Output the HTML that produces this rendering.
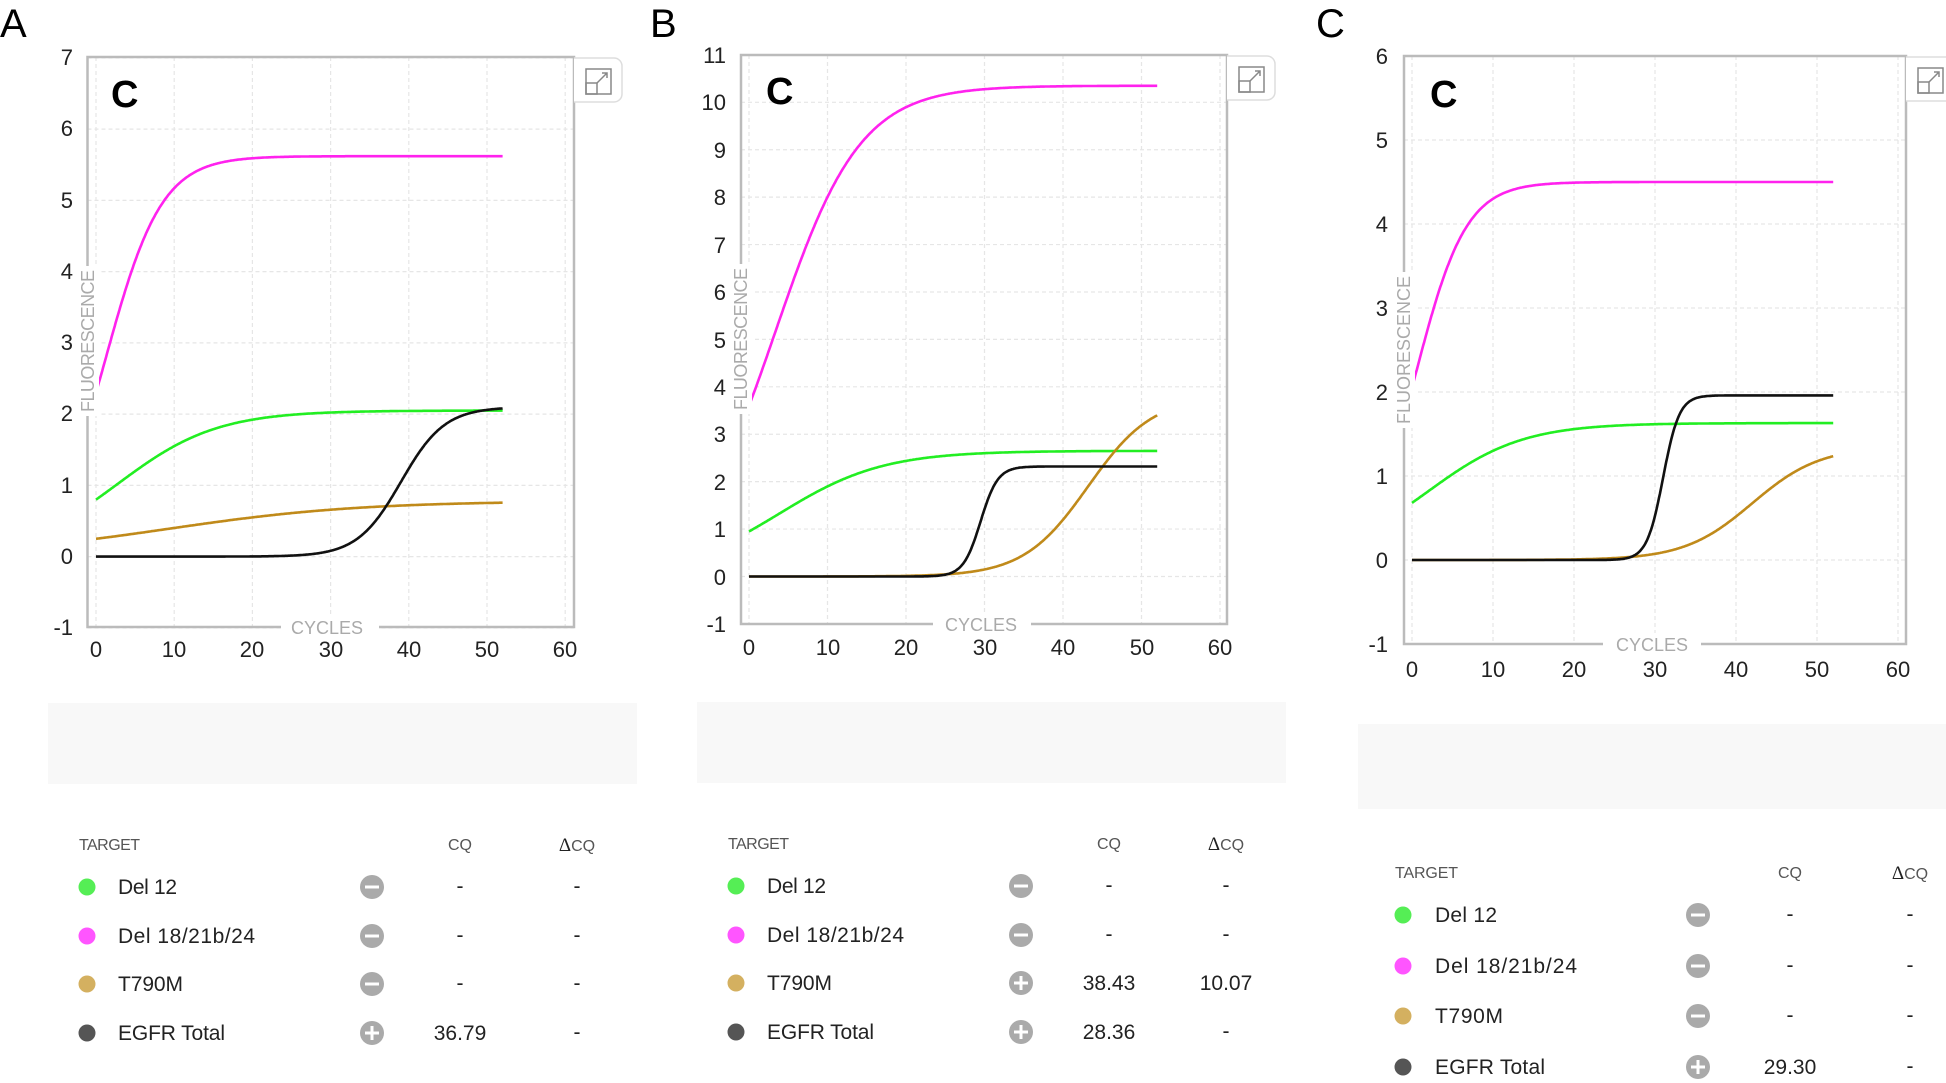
<!DOCTYPE html>
<html><head><meta charset="utf-8"><style>
html,body{margin:0;padding:0;background:#fff;width:1946px;height:1083px;overflow:hidden}
svg{display:block}
.t{font-family:"Liberation Sans",sans-serif;font-size:22px;fill:#222}
.ax{font-family:"Liberation Sans",sans-serif;font-size:18px;fill:#aaa}
.big{font-family:"Liberation Sans",sans-serif;font-size:40px;fill:#000}
.cc{font-family:"Liberation Sans",sans-serif;font-size:38px;font-weight:bold;fill:#000}
.h{font-family:"Liberation Sans",sans-serif;font-size:16px;fill:#555}
.n{font-family:"Liberation Sans",sans-serif;font-size:21px;fill:#222}
</style></head><body>
<svg id="s" width="1946" height="1083" viewBox="0 0 1946 1083" xmlns="http://www.w3.org/2000/svg">
<g id="grid"></g>
<g id="frames"></g>
<g id="curves"></g>

<text class="big" x="0" y="37">A</text>
<text class="big" x="650" y="37">B</text>
<text class="big" x="1316" y="37">C</text>
<text class="cc" x="111" y="107">C</text>
<text class="cc" x="766" y="104">C</text>
<text class="cc" x="1430" y="107">C</text>

<!-- Panel A ticks -->
<g class="t" text-anchor="end">
<text x="73" y="65">7</text><text x="73" y="136">6</text><text x="73" y="208">5</text><text x="73" y="279">4</text><text x="73" y="350">3</text><text x="73" y="421">2</text><text x="73" y="493">1</text><text x="73" y="564">0</text><text x="73" y="635">-1</text>
</g>
<g class="t" text-anchor="middle">
<text x="96" y="657">0</text><text x="174" y="657">10</text><text x="252" y="657">20</text><text x="331" y="657">30</text><text x="409" y="657">40</text><text x="487" y="657">50</text><text x="565" y="657">60</text>
</g>
<!-- Panel B ticks -->
<g class="t" text-anchor="end">
<text x="726" y="63">11</text><text x="726" y="110">10</text><text x="726" y="158">9</text><text x="726" y="205">8</text><text x="726" y="253">7</text><text x="726" y="300">6</text><text x="726" y="348">5</text><text x="726" y="395">4</text><text x="726" y="442">3</text><text x="726" y="490">2</text><text x="726" y="537">1</text><text x="726" y="585">0</text><text x="726" y="632">-1</text>
</g>
<g class="t" text-anchor="middle">
<text x="749" y="655">0</text><text x="828" y="655">10</text><text x="906" y="655">20</text><text x="985" y="655">30</text><text x="1063" y="655">40</text><text x="1142" y="655">50</text><text x="1220" y="655">60</text>
</g>
<!-- Panel C ticks -->
<g class="t" text-anchor="end">
<text x="1388" y="64">6</text><text x="1388" y="148">5</text><text x="1388" y="232">4</text><text x="1388" y="316">3</text><text x="1388" y="400">2</text><text x="1388" y="484">1</text><text x="1388" y="568">0</text><text x="1388" y="652">-1</text>
</g>
<g class="t" text-anchor="middle">
<text x="1412" y="677">0</text><text x="1493" y="677">10</text><text x="1574" y="677">20</text><text x="1655" y="677">30</text><text x="1736" y="677">40</text><text x="1817" y="677">50</text><text x="1898" y="677">60</text>
</g>

<!-- axis titles -->
<rect x="281" y="616" width="98" height="22" fill="#fff"/>
<text class="ax" x="327" y="634" text-anchor="middle">CYCLES</text>
<rect x="933" y="613" width="98" height="22" fill="#fff"/>
<text class="ax" x="981" y="631" text-anchor="middle">CYCLES</text>
<rect x="1603" y="633" width="98" height="22" fill="#fff"/>
<text class="ax" x="1652" y="651" text-anchor="middle">CYCLES</text>

<rect x="77" y="266" width="22" height="150" fill="#fff"/>
<text class="ax" transform="translate(94,341) rotate(-90)" text-anchor="middle" textLength="142">FLUORESCENCE</text>
<rect x="730" y="264" width="22" height="150" fill="#fff"/>
<text class="ax" transform="translate(747,339) rotate(-90)" text-anchor="middle" textLength="142">FLUORESCENCE</text>
<rect x="1393" y="272" width="22" height="156" fill="#fff"/>
<text class="ax" transform="translate(1410,350) rotate(-90)" text-anchor="middle" textLength="148">FLUORESCENCE</text>

<!-- Tables -->
<rect x="48" y="703" width="589" height="81" fill="#f8f8f8"/>
<rect x="697" y="702" width="589" height="81" fill="#f8f8f8"/>
<rect x="1358" y="724" width="588" height="85" fill="#f8f8f8"/>

<g id="tables"></g>

<g>
<text class="h" x="79" y="850" textLength="61">TARGET</text>
<text class="h" x="460" y="850" text-anchor="middle">CQ</text>
<text class="h" x="577" y="851" text-anchor="middle"><tspan font-family="Liberation Serif" font-size="19" fill="#222">Δ</tspan>CQ</text>
<text class="n" x="118" y="894" textLength="59">Del 12</text>
<text class="n" x="118" y="943" textLength="137">Del 18/21b/24</text>
<text class="n" x="118" y="991" textLength="65">T790M</text>
<text class="n" x="118" y="1040" textLength="107">EGFR Total</text>
<g class="n" text-anchor="middle">
<text x="460" y="893">-</text><text x="577" y="893">-</text>
<text x="460" y="942">-</text><text x="577" y="942">-</text>
<text x="460" y="990">-</text><text x="577" y="990">-</text>
<text x="460" y="1040">36.79</text><text x="577" y="1039">-</text>
</g>
</g>
<g transform="translate(649,-1)">
<text class="h" x="79" y="850" textLength="61">TARGET</text>
<text class="h" x="460" y="850" text-anchor="middle">CQ</text>
<text class="h" x="577" y="851" text-anchor="middle"><tspan font-family="Liberation Serif" font-size="19" fill="#222">Δ</tspan>CQ</text>
<text class="n" x="118" y="894" textLength="59">Del 12</text>
<text class="n" x="118" y="943" textLength="137">Del 18/21b/24</text>
<text class="n" x="118" y="991" textLength="65">T790M</text>
<text class="n" x="118" y="1040" textLength="107">EGFR Total</text>
<g class="n" text-anchor="middle">
<text x="460" y="893">-</text><text x="577" y="893">-</text>
<text x="460" y="942">-</text><text x="577" y="942">-</text>
<text x="460" y="991">38.43</text><text x="577" y="991">10.07</text>
<text x="460" y="1040">28.36</text><text x="577" y="1039">-</text>
</g>
</g>
<g>
<text class="h" x="1395" y="878" textLength="63">TARGET</text>
<text class="h" x="1790" y="878" text-anchor="middle">CQ</text>
<text class="h" x="1910" y="879" text-anchor="middle"><tspan font-family="Liberation Serif" font-size="19" fill="#222">Δ</tspan>CQ</text>
<text class="n" x="1435" y="922" textLength="62">Del 12</text>
<text class="n" x="1435" y="973" textLength="142">Del 18/21b/24</text>
<text class="n" x="1435" y="1023" textLength="68">T790M</text>
<text class="n" x="1435" y="1074" textLength="110">EGFR Total</text>
<g class="n" text-anchor="middle">
<text x="1790" y="921">-</text><text x="1910" y="921">-</text>
<text x="1790" y="972">-</text><text x="1910" y="972">-</text>
<text x="1790" y="1022">-</text><text x="1910" y="1022">-</text>
<text x="1790" y="1074">29.30</text><text x="1910" y="1073">-</text>
</g>
</g>
</svg>
<script>
(function(){
var NS="http://www.w3.org/2000/svg";
function el(p,tag,a){var e=document.createElementNS(NS,tag);for(var k in a)e.setAttribute(k,a[k]);document.getElementById(p).appendChild(e);return e;}
function lg(L,c,k){return function(x){return L/(1+Math.exp(-(x-c)/k));};}
var P=[
 {l:87.5,t:57,r:574,b:627,x0:96,sx:7.82,y0:556.6,sy:71.25,vmin:-1,vmax:7,
  c:[[lg(2.05,2.83,6.34),"#22ee22"],[lg(0.78,9.26,12.3),"#c08a1a"],[lg(2.1,39,2.8),"#111"],[lg(5.62,1.31,3.56),"#ff22ee"]]},
 {l:741,t:55,r:1227,b:624,x0:749,sx:7.85,y0:576.5,sy:47.42,vmin:-1,vmax:11,
  c:[[lg(2.65,3.85,6.62),"#22ee22"],[lg(3.8,43.2,4.12),"#c08a1a"],[lg(2.32,29.5,1.1),"#111"],[lg(10.35,3.39,5.39),"#ff22ee"]]},
 {l:1404,t:56,r:1906,b:644,x0:1412,sx:8.1,y0:560,sy:84,vmin:-1,vmax:6,
  c:[[lg(1.63,1.96,5.87),"#22ee22"],[lg(1.35,42,4.2),"#c08a1a"],[lg(1.96,31,1.0),"#111"],[lg(4.5,0.55,3.08),"#ff22ee"]]}
];
P.forEach(function(p){
 for(var k=0;k<=6;k++){var x=p.x0+p.sx*10*k;el("grid","line",{x1:x,x2:x,y1:p.t,y2:p.b,stroke:"#e6e6e6","stroke-width":1.2,"stroke-dasharray":"4,3"});}
 for(var v=p.vmin;v<=p.vmax;v++){var y=p.y0-v*p.sy;el("grid","line",{x1:p.l,x2:p.r,y1:y,y2:y,stroke:"#e6e6e6","stroke-width":1.2,"stroke-dasharray":"4,3"});}
 el("frames","rect",{x:p.l,y:p.t,width:p.r-p.l,height:p.b-p.t,fill:"none",stroke:"#bbb","stroke-width":2.5});
 var bx=p.r,by=p.t+1;
 el("frames","path",{d:"M"+bx+","+by+" h40 a8,8 0 0 1 8,8 v28 a8,8 0 0 1 -8,8 h-40",fill:"#fff",stroke:"#ddd","stroke-width":1.5});
 el("frames","rect",{x:bx+12,y:by+11,width:25,height:25,fill:"none",stroke:"#888","stroke-width":1.5});
 el("frames","rect",{x:bx+12,y:by+25,width:11,height:11,fill:"none",stroke:"#888","stroke-width":1.5});
 el("frames","path",{d:"M"+(bx+23)+","+(by+25)+" L"+(bx+33)+","+(by+15)+" M"+(bx+28)+","+(by+15)+" h5 v5",fill:"none",stroke:"#888","stroke-width":1.5});
 p.c.forEach(function(c){var d="";for(var i=0;i<=520;i++){var x=i/10;d+=(i?"L":"M")+(p.x0+x*p.sx).toFixed(1)+","+(p.y0-c[0](x)*p.sy).toFixed(1);}
  el("curves","path",{d:d,fill:"none",stroke:c[1],"stroke-width":2.6});});
});
var T=[{dx:87,ix:372,rows:[887,936,984,1033],signs:[0,0,0,1]},
       {dx:736,ix:1021,rows:[886,935,983,1032],signs:[0,0,1,1]},
       {dx:1403,ix:1698,rows:[915,966,1016,1067],signs:[0,0,0,1]}];
var cols=["#55ee55","#ff55ff","#d4b060","#555"];
T.forEach(function(t){t.rows.forEach(function(y,i){
 el("tables","circle",{cx:t.dx,cy:y,r:8.5,fill:cols[i]});
 el("tables","circle",{cx:t.ix,cy:y,r:12,fill:"#aaa"});
 el("tables","rect",{x:t.ix-7,y:y-1.5,width:14,height:3,fill:"#fff"});
 if(t.signs[i])el("tables","rect",{x:t.ix-1.5,y:y-7,width:3,height:14,fill:"#fff"});
});});
})();
</script>
</body></html>
